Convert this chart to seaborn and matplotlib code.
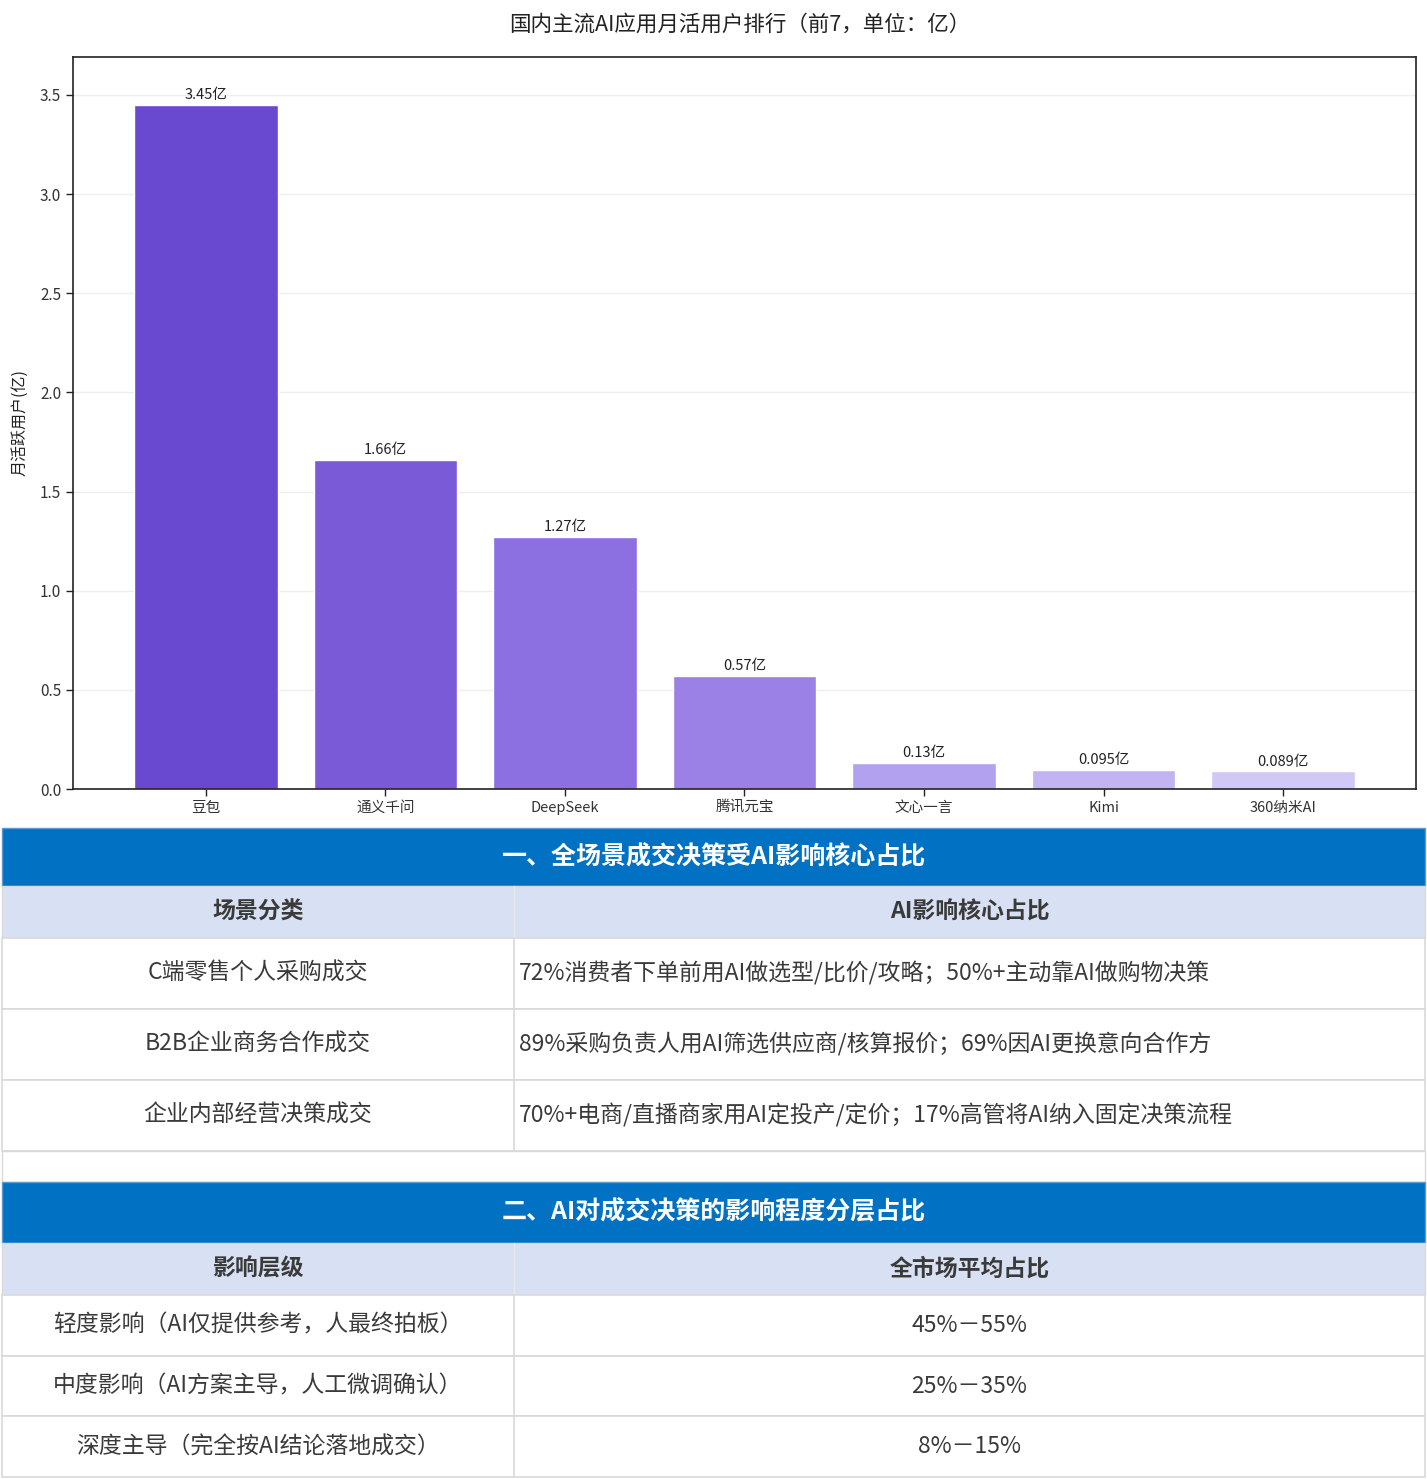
import matplotlib
matplotlib.use("Agg")
import matplotlib.pyplot as plt
import seaborn as sns
from matplotlib.patches import Rectangle

# chart data
apps = ["豆包", "通义千问", "DeepSeek", "腾讯元宝", "文心一言", "Kimi", "360纳米AI"]
users = [3.45, 1.66, 1.27, 0.57, 0.13, 0.095, 0.089]
bar_labels = ["3.45亿", "1.66亿", "1.27亿", "0.57亿", "0.13亿", "0.095亿", "0.089亿"]
bar_colors = ["#6949CF", "#7B5AD8", "#8C6FE0", "#9B80E6", "#B2A1EE", "#C2B4F2", "#D1C8F6"]

# table data
t1_title = "一、全场景成交决策受AI影响核心占比"
t1_head = ["场景分类", "AI影响核心占比"]
t1_col1 = ["C端零售个人采购成交", "B2B企业商务合作成交", "企业内部经营决策成交"]
t1_col2 = ["72%消费者下单前用AI做选型/比价/攻略；50%+主动靠AI做购物决策",
           "89%采购负责人用AI筛选供应商/核算报价；69%因AI更换意向合作方",
           "70%+电商/直播商家用AI定投产/定价；17%高管将AI纳入固定决策流程"]
t2_title = "二、AI对成交决策的影响程度分层占比"
t2_head = ["影响层级", "全市场平均占比"]
t2_col1 = ["轻度影响（AI仅提供参考，人最终拍板）", "中度影响（AI方案主导，人工微调确认）", "深度主导（完全按AI结论落地成交）"]
t2_col2 = ["45%－55%", "25%－35%", "8%－15%"]

sns.set_theme(style="white")
plt.rcParams['font.family'] = ['Noto Sans CJK SC', 'DejaVu Sans']

W, H = 1427, 1479
fig = plt.figure(figsize=(W / 100, H / 100), dpi=100)

# ---- bar chart ----
ax = fig.add_axes([73 / W, 1 - 789 / H, 1343 / W, 732 / H])
sns.barplot(x=apps, y=users, hue=apps, palette=bar_colors, legend=False,
            width=0.8, saturation=1, ax=ax)
for cont, lab in zip(ax.containers, bar_labels):
    ax.bar_label(cont, labels=[lab], padding=2, fontsize=10.5, color="#222222")
ax.set_xlim(-0.74, len(apps) - 1 + 0.74)
ax.set_ylim(0, max(users) * 1.07)
ax.set_yticks([0, 0.5, 1.0, 1.5, 2.0, 2.5, 3.0, 3.5])
ax.yaxis.grid(True, color="#eeeeee", linewidth=1)
ax.set_axisbelow(True)
ax.set_ylabel("月活跃用户(亿)", fontsize=11.5, color="#222222", labelpad=8)
ax.tick_params(axis="both", which="both", length=5, width=1, color="#222222",
               labelsize=11, labelcolor="#333333", bottom=True, left=True)
ax.tick_params(axis="x", labelsize=10.5)
for s in ax.spines.values():
    s.set_color("#222222")
    s.set_linewidth(1.2)
fig.text(740 / W, 1 - 25 / H, "国内主流AI应用月活用户排行（前7，单位：亿）",
         ha="center", va="center", fontsize=15.5, color="#222222")

# ---- tables ----
tx = fig.add_axes([0, 0, 1, 1])
tx.set_xlim(0, W)
tx.set_ylim(H, 0)
tx.axis("off")

x0, xs, x1 = 2, 514, 1425
blue, light, grid = "#0171C4", "#D8E1F3", "#D9D9D9"
txt = "#3a3a3a"
fs = 16.5


def draw_table(top, title, head, col1, col2, left_col2, hh, sh, rh):
    tx.add_patch(Rectangle((x0, top), x1 - x0, hh, facecolor=blue, edgecolor="#5A9BD5", lw=1))
    tx.text((x0 + x1) / 2, top + hh / 2, title, ha="center", va="center",
            fontsize=18, fontweight="bold", color="white")
    y = top + hh
    tx.add_patch(Rectangle((x0, y), x1 - x0, sh, facecolor=light, edgecolor=grid, lw=1))
    tx.plot([xs, xs], [y, y + sh], color="#e8e8e8", lw=1)
    tx.text((x0 + xs) / 2, y + sh / 2, head[0], ha="center", va="center",
            fontsize=fs, fontweight="bold", color=txt)
    tx.text((xs + x1) / 2, y + sh / 2, head[1], ha="center", va="center",
            fontsize=fs, fontweight="bold", color=txt)
    y += sh
    for a, b in zip(col1, col2):
        tx.add_patch(Rectangle((x0, y), x1 - x0, rh, facecolor="white", edgecolor=grid, lw=1.2))
        tx.plot([xs, xs], [y, y + rh], color=grid, lw=1.2)
        tx.text((x0 + xs) / 2, y + rh / 2, a, ha="center", va="center", fontsize=fs, color=txt)
        if left_col2:
            tx.text(xs + 5, y + rh / 2, b, ha="left", va="center", fontsize=fs, color=txt)
        else:
            tx.text((xs + x1) / 2, y + rh / 2, b, ha="center", va="center", fontsize=fs, color=txt)
        y += rh
    return y


end1 = draw_table(828, t1_title, t1_head, t1_col1, t1_col2, True, 58, 52, 71)
tx.add_patch(Rectangle((x0, end1), x1 - x0, 1182 - end1, facecolor="white", edgecolor=grid, lw=1))
draw_table(1182, t2_title, t2_head, t2_col1, t2_col2, False, 61, 52, 60.7)

fig.savefig("out.png", dpi=100)
